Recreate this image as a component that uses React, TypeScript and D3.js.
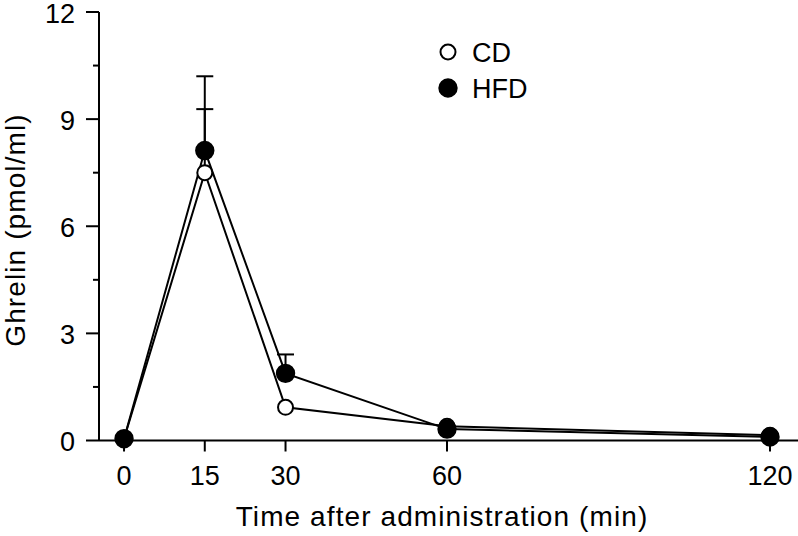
import React from 'react';
import * as d3 from 'd3';

const times = [0, 15, 30, 60, 120];
const cdValues = [0.05, 7.5, 0.93, 0.4, 0.15];
const cdErrors = [0, 1.78, 0, 0, 0];
const hfdValues = [0.05, 8.12, 1.88, 0.32, 0.1];
const hfdErrors = [0, 2.08, 0.53, 0, 0];
const yTicks = [0, 3, 6, 9, 12];
const yMinorTicks = [1.5, 4.5, 7.5, 10.5];
const xTicks = [0, 15, 30, 60, 120];

const W = 798;
const H = 536;
const FONT = 'Liberation Sans, Arial, Helvetica, sans-serif';
const FS = 27;

const App = () => {
    const x = d3.scaleLinear().domain([-4.65, 125.2]).range([99, 798]);
    const y = d3.scaleLinear().domain([0, 12]).range([440.5, 12]);

    const line = d3.line<number>()
        .x((_, i) => x(times[i]))
        .y(d => y(d));

    const series = [
        { name: 'CD', values: cdValues, errors: cdErrors, fill: '#fff', r: 7.5 },
        { name: 'HFD', values: hfdValues, errors: hfdErrors, fill: '#000', r: 8.7 },
    ];

    return (
        <svg width={W} height={H} style={{ display: 'block', position: 'absolute', left: 0, top: 0 }}>
            <rect width={W} height={H} fill="#fff" />
            {/* axes */}
            <line x1={x.range()[0]} x2={x.range()[0]} y1={y(12)} y2={y(0)} stroke="#000" strokeWidth={2} />
            <line x1={x.range()[0]} x2={x.range()[1]} y1={y(0)} y2={y(0)} stroke="#000" strokeWidth={2} />
            {yTicks.map(t => (
                <g key={t}>
                    <line x1={86} x2={99} y1={y(t)} y2={y(t)} stroke="#000" strokeWidth={2} />
                    <text x={75} y={y(t)} dy="0.4em" textAnchor="end" fontFamily={FONT} fontSize={FS}>{t}</text>
                </g>
            ))}
            {yMinorTicks.map(t => (
                <line key={t} x1={93} x2={99} y1={y(t)} y2={y(t)} stroke="#000" strokeWidth={2} />
            ))}
            {xTicks.map(t => (
                <g key={t}>
                    <line x1={x(t)} x2={x(t)} y1={y(0)} y2={y(0) + 11} stroke="#000" strokeWidth={2} />
                    <text x={x(t)} y={485} textAnchor="middle" fontFamily={FONT} fontSize={FS}>{t}</text>
                </g>
            ))}
            <text x={442} y={526} textAnchor="middle" fontFamily={FONT} fontSize={28} letterSpacing={1.1}>Time after administration (min)</text>
            <text transform={`translate(25,230) rotate(-90)`} textAnchor="middle" fontFamily={FONT} fontSize={28} letterSpacing={1.1}>Ghrelin (pmol/ml)</text>

            {/* error bars */}
            {series.map(s => s.values.map((v, i) => s.errors[i] > 0 && (
                <g key={s.name + i}>
                    <line x1={x(times[i])} x2={x(times[i])} y1={y(v)} y2={y(v + s.errors[i])} stroke="#000" strokeWidth={2} />
                    <line x1={x(times[i]) - 8.5} x2={x(times[i]) + 8.5} y1={y(v + s.errors[i])} y2={y(v + s.errors[i])} stroke="#000" strokeWidth={2} />
                </g>
            )))}

            {/* lines */}
            {series.map(s => (
                <path key={s.name} d={line(s.values) || ''} fill="none" stroke="#000" strokeWidth={2} />
            ))}

            {/* points */}
            {series.map(s => s.values.map((v, i) => (
                <circle key={s.name + 'p' + i} cx={x(times[i])} cy={y(v)} r={s.r}
                    fill={s.fill} stroke="#000" strokeWidth={2} />
            )))}

            {/* legend */}
            {series.map((s, i) => (
                <g key={s.name + 'leg'} transform={`translate(448,${52 + i * 36})`}>
                    <circle r={s.r} fill={s.fill} stroke="#000" strokeWidth={2} />
                    <text x={24} dy="0.36em" fontFamily={FONT} fontSize={FS}>{s.name}</text>
                </g>
            ))}
        </svg>
    );
};

export default App;
